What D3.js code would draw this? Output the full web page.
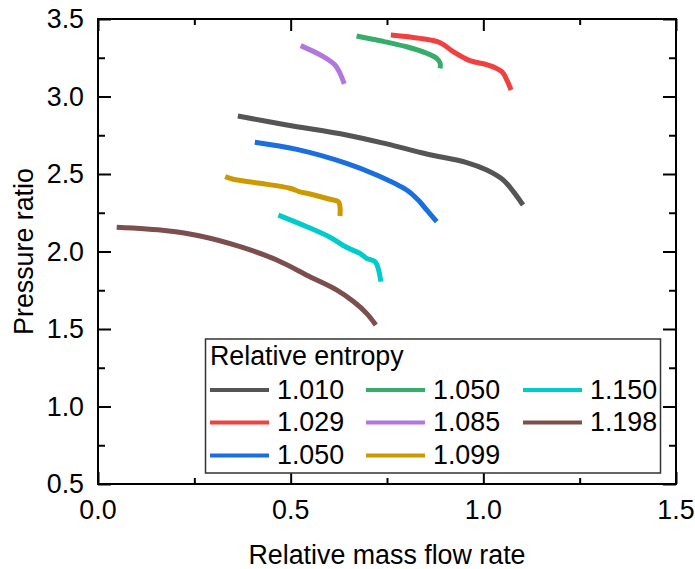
<!DOCTYPE html>
<html>
<head>
<meta charset="utf-8">
<script src="https://cdn.jsdelivr.net/npm/d3@7"></script>
<style>
  html, body { margin: 0; padding: 0; background: #fff; }
  svg text { font-family: Arial, "Liberation Sans", sans-serif; fill: #000; }
</style>
</head>
<body>
<svg id="chart" width="695" height="569"></svg>
<script>
// ---------- data ----------
const legendTitle = "Relative entropy";
const seriesLabels = ["1.010", "1.029", "1.050", "1.050", "1.085", "1.099", "1.150", "1.198"];
const seriesColors = ["#555555", "#F14040", "#1A6FDF", "#37AD6B", "#B177DE", "#CC9900", "#00CBCC", "#7D4E4E"];

const x1010 = [0.363, 0.490, 0.645, 0.749, 0.853, 0.957, 1.009, 1.052, 1.078, 1.103];
const y1010 = [2.874, 2.816, 2.752, 2.694, 2.629, 2.574, 2.526, 2.461, 2.386, 2.300];

const x1029 = [0.760, 0.836, 0.888, 0.922, 0.965, 1.012, 1.048, 1.061, 1.072];
const y1029 = [3.397, 3.375, 3.347, 3.289, 3.231, 3.203, 3.160, 3.106, 3.042];

const x1050a = [0.407, 0.516, 0.645, 0.723, 0.801, 0.831, 0.853, 0.879];
const y1050a = [2.705, 2.659, 2.569, 2.494, 2.397, 2.332, 2.268, 2.192];

const x1050b = [0.671, 0.732, 0.801, 0.853, 0.879, 0.888, 0.888];
const y1050b = [3.390, 3.360, 3.321, 3.279, 3.246, 3.214, 3.182];

const x1085 = [0.526, 0.585, 0.615, 0.628, 0.639];
const y1085 = [3.328, 3.257, 3.203, 3.150, 3.081];

const x1099 = [0.330, 0.351, 0.420, 0.498, 0.524, 0.550, 0.602, 0.624, 0.628, 0.628];
const y1099 = [2.483, 2.466, 2.440, 2.408, 2.385, 2.371, 2.337, 2.321, 2.289, 2.229];

const x1150 = [0.468, 0.542, 0.602, 0.645, 0.680, 0.697, 0.719, 0.727, 0.734];
const y1150 = [2.235, 2.160, 2.092, 2.027, 1.988, 1.956, 1.934, 1.892, 1.805];

const x1198 = [0.0485, 0.178, 0.265, 0.369, 0.464, 0.550, 0.619, 0.663, 0.697, 0.721];
const y1198 = [2.156, 2.134, 2.100, 2.031, 1.945, 1.837, 1.752, 1.677, 1.601, 1.526];

const seriesX = [x1010, x1029, x1050a, x1050b, x1085, x1099, x1150, x1198];
const seriesY = [y1010, y1029, y1050a, y1050b, y1085, y1099, y1150, y1198];

const xTicks = [0.0, 0.5, 1.0, 1.5];
const yTicks = [0.5, 1.0, 1.5, 2.0, 2.5, 3.0, 3.5];
const xMinor = [0.25, 0.75, 1.25];
const yMinor = [0.75, 1.25, 1.75, 2.25, 2.75, 3.25];
const xTitle = "Relative mass flow rate";
const yTitle = "Pressure ratio";

// ---------- layout ----------
const svg = d3.select("#chart");
const L = 98, R = 676, T = 19, B = 484;
const x = d3.scaleLinear().domain([0, 1.5]).range([L, R]);
const y = d3.scaleLinear().domain([0.5, 3.5]).range([B, T]);
const FS = 26.8;

// series
const line = d3.line()
  .x(d => x(d[0])).y(d => y(d[1]))
  .curve(d3.curveCatmullRom.alpha(0.5));

const gSeries = svg.append("g");
seriesX.forEach((xs, i) => {
  const pts = xs.map((v, j) => [v, seriesY[i][j]]);
  gSeries.append("path")
    .attr("d", line(pts))
    .attr("fill", "none")
    .attr("stroke", seriesColors[i])
    .attr("stroke-width", 5)
    .attr("stroke-linecap", "butt")
    .attr("stroke-linejoin", "round");
});

// axes with inward ticks on all four sides
const MAJ = 12, MIN = 6;
function tickAxis(axisGen, transform) {
  const g = svg.append("g").attr("transform", transform).call(axisGen);
  g.selectAll("text").remove();
  g.select(".domain").remove();
  g.selectAll("line").attr("stroke", "#000").attr("stroke-width", 2);
  return g;
}
// bottom
tickAxis(d3.axisTop(x).tickValues(xTicks).tickSize(MAJ), `translate(0,${B})`);
tickAxis(d3.axisTop(x).tickValues(xMinor).tickSize(MIN), `translate(0,${B})`);
// top
tickAxis(d3.axisBottom(x).tickValues(xTicks).tickSize(MAJ), `translate(0,${T})`);
tickAxis(d3.axisBottom(x).tickValues(xMinor).tickSize(MIN), `translate(0,${T})`);
// left
tickAxis(d3.axisRight(y).tickValues(yTicks).tickSize(13), `translate(${L},0)`);
tickAxis(d3.axisRight(y).tickValues(yMinor).tickSize(7), `translate(${L},0)`);
// right
tickAxis(d3.axisLeft(y).tickValues(yTicks).tickSize(13), `translate(${R},0)`);
tickAxis(d3.axisLeft(y).tickValues(yMinor).tickSize(7), `translate(${R},0)`);

// frame
svg.append("rect")
  .attr("x", L).attr("y", T).attr("width", R - L).attr("height", B - T)
  .attr("fill", "none").attr("stroke", "#000").attr("stroke-width", 2);

// tick labels
svg.append("g").selectAll("text").data(xTicks).join("text")
  .attr("x", d => x(d)).attr("y", 518.5)
  .attr("text-anchor", "middle").attr("font-size", FS)
  .text(d => d.toFixed(1));
svg.append("g").selectAll("text").data(yTicks).join("text")
  .attr("x", 84).attr("y", d => y(d) + 9)
  .attr("text-anchor", "end").attr("font-size", FS)
  .text(d => d.toFixed(1));

// axis titles
svg.append("text")
  .attr("x", (L + R) / 2).attr("y", 564)
  .attr("text-anchor", "middle").attr("font-size", FS)
  .text(xTitle);
svg.append("text")
  .attr("transform", `translate(33,${(T + B) / 2}) rotate(-90)`)
  .attr("text-anchor", "middle").attr("font-size", FS)
  .text(yTitle);

// legend
const lg = svg.append("g");
lg.append("rect")
  .attr("x", 205.5).attr("y", 339).attr("width", 455).attr("height", 134)
  .attr("fill", "#fff").attr("stroke", "#333").attr("stroke-width", 1.5);
lg.append("text").attr("x", 210).attr("y", 365).attr("font-size", FS).text(legendTitle);
const colLineX = [210, 366, 523];
const rowY = [390, 422.5, 455.5];
seriesLabels.forEach((lab, i) => {
  const col = Math.floor(i / 3), row = i % 3;
  const lx = colLineX[col], ly = rowY[row];
  lg.append("line")
    .attr("x1", lx).attr("x2", lx + 59).attr("y1", ly).attr("y2", ly)
    .attr("stroke", seriesColors[i]).attr("stroke-width", 4);
  lg.append("text")
    .attr("x", lx + 67).attr("y", ly + 8.5)
    .attr("font-size", FS).text(lab);
});
</script>
</body>
</html>
